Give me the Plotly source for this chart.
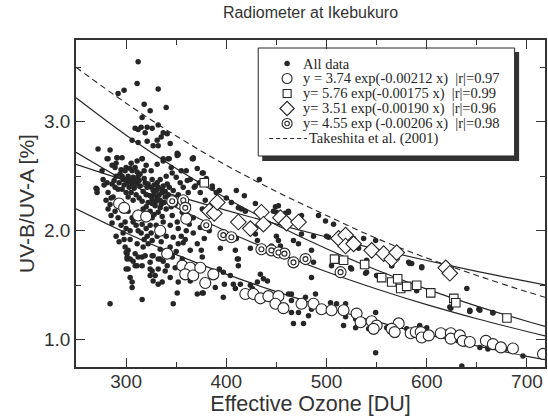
import plotly.graph_objects as go

# ---------------- data ----------------
curve_x = [250, 300, 350, 400, 450, 500, 550, 600, 650, 700, 720]
fit_circle = [2.201, 1.980, 1.781, 1.602, 1.441, 1.296, 1.166, 1.048, 0.943, 0.848, 0.813]
fit_square = [3.22, 2.877, 2.571, 2.298, 2.053, 1.835, 1.640, 1.465, 1.309, 1.170, 1.118]
fit_diamond = [2.61, 2.460, 2.320, 2.187, 2.061, 1.943, 1.832, 1.727, 1.628, 1.535, 1.499]
fit_dcircle = [2.719, 2.452, 2.213, 1.996, 1.801, 1.624, 1.466, 1.322, 1.193, 1.076, 1.032]
takeshita = [3.50, 3.17, 2.87, 2.60, 2.36, 2.14, 1.93, 1.75, 1.59, 1.44, 1.385]

all_top = [(312,3.55),(311,3.35),(292,3.26),(298,3.29),(332,3.30),(318,3.16),(324,3.10),(340,3.13),
           (316,3.04),(309,2.94),(312,2.93),(315,2.95),(319,2.90),(321,2.95),(326,2.94),(332,2.97),
           (337,2.90),(341,2.89),(335,2.86),(306,2.83),(312,2.81),(321,2.82),(331,2.83),(332,2.78),
           (327,2.78),(344,2.80),(272,2.75),(284,2.74),(352,2.70),(367,2.66),(281,2.66),(291,2.67),
           (296,2.67),(316,2.66),(337,2.66),(342,2.66),(343,2.66),(346,2.53),(350,2.49),(340,2.50),
           (343,2.40)]
all_mid = [(351,2.71),(366,2.66),(371,2.57),(376,2.53),(360,2.55),(361,2.46),(368,2.40),(373,2.44),
           (386,2.41),(390,2.35),(400,2.30),(410,2.37),(418,2.32),(433,2.47),(405,2.26),(412,2.21),
           (419,2.18),(449,2.22),(450,2.17),(459,2.16),(462,2.18),(429,2.03),(429,1.97),(377,2.53),
           (380,2.48),(386,2.39),(393,2.37),(415,2.20),(429,2.25),(452,2.23),(447,2.18),(462,2.17),
           (475,2.14),(492,2.14),(499,2.09),(487,1.95),(500,1.95),(475,1.97),(467,1.91),(450,1.95),
           (454,1.86),(427,2.00),(431,1.91),(424,1.84),(409,1.82),(394,1.84),(410,1.93),(378,1.93),
           (383,2.00),(375,1.82),(412,1.74),(445,1.86),(472,1.88),(485,1.82),(452,1.91)]
all_right = [(507,2.06),(502,1.94),(527,1.93),(537,1.93),(549,1.91),(532,1.84),(565,1.68),(582,1.71),
             (585,1.70),(595,1.66),(485,1.57),(505,1.68),(524,1.66),(540,1.73),(539,1.61),(552,1.58),
             (590,1.45),(640,1.47),(624,1.29),(643,1.27),(652,1.28),(666,1.25),(465,1.42),(489,1.42),
             (477,1.15),(467,1.15),(485,1.28),(565,1.68)]
all_low = [(376,1.76),(393,1.65),(398,1.51),(407,1.51),(409,1.47),(414,1.51),(389,1.48),(376,1.43),
           (397,1.39),(411,1.74),(412,1.68),(397,1.62),(404,1.59),(424,1.50),(431,1.53),(434,1.60),
           (437,1.56),(441,1.54),(426,1.47),(462,1.42),(465,1.36),(465,1.25),(472,1.25),(482,1.22),
           (479,1.39),(487,1.71),(504,1.34),(510,1.33),(519,1.33),(519,1.21),(529,1.19),(529,1.11),
           (517,1.13),(542,1.10),(549,1.25),(549,0.88),(560,1.11),(580,1.10),(593,1.13),(600,1.11),
           (620,1.07),(631,0.99),(638,0.96),(653,0.93),(661,0.915),(678,0.915),(696,0.85),(635,0.76),
           (623,1.30),(643,1.26),(653,1.27),(666,1.245),(525,1.65),(540,1.62),(550,1.59),(583,1.70),
           (595,1.67)]
all_cluster = [(282,2.66),(291,2.67),(311,2.64),(316,2.66),(331,2.61),(337,2.64),(351,2.69),(367,2.67),
               (286,2.60),(289,2.58),(299,2.55),(304,2.57),(309,2.58),(296,2.50),(302,2.50),(307,2.49),
               (312,2.50),(301,2.44),(306,2.43),(311,2.43),(314,2.41),(319,2.44),(321,2.40),(326,2.47),
               (331,2.44),(334,2.47),(332,2.40),(337,2.41),(327,2.37),(336,2.35),(331,2.31),(334,2.28),
               (339,2.31),(326,2.29),(322,2.26),(329,2.23),(334,2.21),(341,2.43),(347,2.37),(354,2.44),
               (364,2.47),(369,2.41),(362,2.35),(349,2.24),(271,2.38),(277,2.47),(281,2.44),(286,2.43),
               (289,2.40),(292,2.38),(282,2.35),(287,2.31),(284,2.24),(282,2.20),(289,2.18),(302,2.31),
               (307,2.28),(302,2.18),(312,2.17),(317,2.20),(307,2.08),(299,2.08),(297,1.98),(304,2.00),
               (312,2.00),(321,1.95),(324,2.05),(326,2.12),(316,2.06),(304,1.92),(311,1.88),(302,1.82),
               (317,1.85),(326,1.91),(331,1.95),(337,2.08),(344,2.05),(346,2.14),(351,2.08),(352,2.02),
               (347,1.94),(344,1.85),(334,1.83),(326,1.77),(352,1.88),(359,1.92),(367,1.98),(374,2.03),
               (367,2.12),(376,2.20),(379,2.28),(362,2.23),(356,2.17),(374,2.35),(357,1.89),(364,1.82),
               (371,1.88),(346,1.76),(356,1.74),(299,1.85),(301,1.76),(309,1.79),(316,1.76),(332,1.74),
               (294,2.52),(297,2.47),(300,2.47),(304,2.46),(308,2.45),(310,2.47),(313,2.46),(303,2.40),
               (308,2.39),(298,2.42),(293,2.44),(318,2.48),(322,2.43),(325,2.40),(328,2.42),(330,2.37),
               (333,2.33),(336,2.38),(338,2.26),(328,2.33),(324,2.32),(326,2.25),(330,2.27),(335,2.24),
               (339,2.36),(342,2.33),(344,2.28),(320,2.33),(317,2.36),(270,2.39),(271,2.35),(285,2.14),
               (286,2.07)]
all_dense = [(295,2.56),(300,2.58),(306,2.55),(311,2.54),(314,2.52),(318,2.55),(290,2.50),(288,2.46),
             (296,2.38),(300,2.35),(305,2.35),(310,2.33),(313,2.30),(316,2.27),(320,2.22),(324,2.18),
             (328,2.15),(332,2.17),(336,2.13),(340,2.20),(345,2.22),(292,2.12),(295,2.05),(300,2.02),
             (306,2.12),(310,2.05),(315,1.98),(320,2.02),(325,1.98),(330,2.05),(335,1.90),(340,1.95),
             (290,1.95),(293,1.90),(298,1.92),(318,1.92),(322,1.88),(340,1.80),(350,1.81),(355,1.95),
             (360,2.00),(363,2.06),(348,2.30),(352,2.33),(357,2.40),(280,2.28),(285,2.30),(278,2.42),
             (276,2.55),(290,2.62),(305,2.62),(320,2.60),(325,2.55),(345,2.58),(355,2.55)]
all_bottom = [(301,1.79),(304,1.74),(312,1.76),(319,1.77),(327,1.77),(334,1.74),(346,1.77),(309,1.68),
              (316,1.68),(324,1.65),(332,1.65),(341,1.68),(349,1.66),(302,1.65),(304,1.57),(306,1.53),
              (324,1.59),(327,1.54),(332,1.51),(336,1.53),(344,1.57),(352,1.53),(357,1.63),(364,1.54),
              (371,1.42),(377,1.43),(351,1.43),(316,1.37),(347,1.33),(284,1.33),(306,1.48),(329,1.59),
              (339,1.63),(311,1.68),(307,1.72),(324,1.71),(326,1.63),(337,1.72),(300,1.80),(301,1.74),
              (300,1.65)]

circles = [(293,2.25),(298,2.21),(312,2.14),(320,2.13),(334,2.00),(360,2.11),(341,1.79),(356,1.68),
           (364,1.66),(359,1.60),(367,1.59),(374,1.66),(379,1.52),(387,1.60),(419,1.42),(427,1.42),
           (434,1.38),(442,1.40),(452,1.40),(449,1.33),(457,1.29),(475,1.33),(487,1.33),(495,1.28),
           (505,1.27),(517,1.27),(530,1.24),(534,1.16),(545,1.17),(550,1.13),(547,1.10),(572,1.15),
           (565,1.10),(568,1.07),(584,1.06),(589,1.07),(594,1.07),(595,1.02),(602,1.04),(614,1.06),
           (624,1.06),(624,1.01),(633,1.04),(636,0.99),(643,0.98),(659,0.99),(666,0.96),(674,0.93),
           (686,0.92),(716,0.87)]
squares = [(378,2.44),(508,1.74),(517,1.73),(538,1.69),(555,1.57),(565,1.53),(571,1.56),(574,1.47),
           (580,1.49),(590,1.50),(604,1.43),(627,1.38),(629,1.34),(680,1.20)]
diamonds = [(383,2.18),(388,2.16),(391,2.26),(412,2.08),(424,2.02),(435,2.17),(437,2.06),(454,2.12),
            (460,2.07),(472,2.08),(512,1.93),(519,1.96),(519,1.86),(527,1.88),(545,1.82),(557,1.79),
            (565,1.74),(570,1.80),(619,1.66),(623,1.61)]
dcircles = [(346,2.27),(357,2.28),(359,2.21),(380,2.05),(397,1.96),(405,1.94),(435,1.83),(445,1.82),
            (452,1.80),(458,1.79),(467,1.71),(479,1.74),(514,1.62)]

legend_labels = ["All data",
                 "y = 3.74 exp(-0.00212 x)  |r|=0.97",
                 "y= 5.76 exp(-0.00175 x)  |r|=0.99",
                 "y= 3.51 exp(-0.00190 x)  |r|=0.96",
                 "y= 4.55 exp (-0.00206 x)  |r|=0.98",
                 "Takeshita et al. (2001)"]

# ---------------- figure ----------------
INK = "#262626"
fig = go.Figure()

for ys in (fit_circle, fit_square, fit_diamond, fit_dcircle):
    fig.add_trace(go.Scatter(x=curve_x, y=ys, mode="lines", line=dict(color=INK, width=1.2, shape="spline"),
                             hoverinfo="skip", showlegend=False))
fig.add_trace(go.Scatter(x=curve_x, y=takeshita, mode="lines",
                         line=dict(color=INK, width=1.1, shape="spline", dash="6px,4px"),
                         hoverinfo="skip", showlegend=False))

all_data = all_top + all_mid + all_right + all_low + all_cluster + all_dense + all_bottom
fig.add_trace(go.Scatter(x=[p[0] for p in all_data], y=[p[1] for p in all_data], mode="markers",
                         marker=dict(size=5.5, color=INK, line=dict(width=0)), showlegend=False))

def open_markers(pts, symbol, size, lw=1.1):
    return go.Scatter(x=[p[0] for p in pts], y=[p[1] for p in pts], mode="markers",
                      marker=dict(symbol=symbol, size=size, color="white", line=dict(color=INK, width=lw)),
                      showlegend=False)

fig.add_trace(open_markers(circles, "circle", 11))
fig.add_trace(open_markers(squares, "square", 8.5))
fig.add_trace(open_markers(diamonds, "diamond", 12))
fig.add_trace(open_markers(dcircles, "circle", 11))
fig.add_trace(open_markers(dcircles, "circle", 5))

# ---------------- hand drawn legend (pixel-like overlay axes) ----------------
rows = [63.5, 78.5, 93.5, 108.5, 123.5, 138.5]
mx = 288
fig.add_trace(go.Scatter(x=[mx], y=[rows[0]], xaxis="x2", yaxis="y2", mode="markers",
                         marker=dict(size=5.5, color=INK), showlegend=False, hoverinfo="skip"))
for sym, sz, r in (("circle", 10, rows[1]), ("square", 8, rows[2]), ("diamond", 11, rows[3]),
                   ("circle", 10, rows[4]), ("circle", 4.5, rows[4])):
    fig.add_trace(go.Scatter(x=[mx], y=[r], xaxis="x2", yaxis="y2", mode="markers",
                             marker=dict(symbol=sym, size=sz, color="white", line=dict(color=INK, width=1.1)),
                             showlegend=False, hoverinfo="skip"))
fig.add_trace(go.Scatter(x=[270, 308], y=[rows[5], rows[5]], xaxis="x2", yaxis="y2", mode="lines",
                         line=dict(color=INK, width=1.1, dash="4px,3px"), showlegend=False, hoverinfo="skip"))

shapes = [
    dict(type="rect", xref="x2", yref="y2", x0=263, x1=521, y0=52, y1=161, fillcolor="#333333",
         line=dict(width=0), layer="below"),
    dict(type="rect", xref="x2", yref="y2", x0=259, x1=516.5, y0=48, y1=156, fillcolor="white",
         line=dict(color=INK, width=1), layer="below"),
]
annotations = []
for i, (lab, r) in enumerate(zip(legend_labels, rows)):
    annotations.append(dict(xref="x2", yref="y2", x=(308 if i == 5 else 302), y=r, text=lab.replace("  ", "\u00a0 "),
                            showarrow=False, xanchor="left", yanchor="middle",
                            font=dict(family="Liberation Serif", size=14.5, color=INK)))

axis_common = dict(showgrid=False, zeroline=False, showline=True, linecolor="#333", linewidth=1.5,
                   mirror="ticks", ticks="inside", ticklen=9, tickwidth=1.2, tickcolor="#333",
                   tickfont=dict(family="Liberation Sans", size=19, color="#333"))

fig.update_layout(
    width=548, height=416,
    margin=dict(l=76, r=1, t=40, b=49),
    paper_bgcolor="white", plot_bgcolor="white",
    title=dict(text="Radiometer at Ikebukuro", x=0.5, xref="paper", y=1 - 12 / 416, yanchor="middle",
               font=dict(family="Liberation Sans", size=16, color="#333")),
    xaxis=dict(range=[250, 718], tickvals=[300, 400, 500, 600, 700], ticklabelstandoff=-4,
               minor=dict(ticks="inside", ticklen=5, tickwidth=1.2, tickcolor="#333", dtick=50, tick0=250),
               title=dict(text="Effective Ozone [DU]", standoff=0,
                          font=dict(family="Liberation Sans", size=21.5, color="#333")),
               **axis_common),
    yaxis=dict(range=[0.75, 3.75], tickvals=[1, 2, 3], ticktext=["1.0", "2.0", "3.0"],
               minor=dict(ticks="inside", ticklen=5, tickwidth=1.2, tickcolor="#333", dtick=0.5, tick0=0.5),
               title=dict(text="UV-B/UV-A [%]", standoff=4,
                          font=dict(family="Liberation Sans", size=21, color="#333")),
               **axis_common),
    xaxis2=dict(overlaying="x", range=[76, 547], visible=False),
    yaxis2=dict(overlaying="y", range=[367, 40], visible=False),
    shapes=shapes, annotations=annotations,
)

fig.write_html("out.html", config={"displayModeBar": False},
               post_script="document.body.style.margin='0px';document.body.style.overflow='hidden';")
